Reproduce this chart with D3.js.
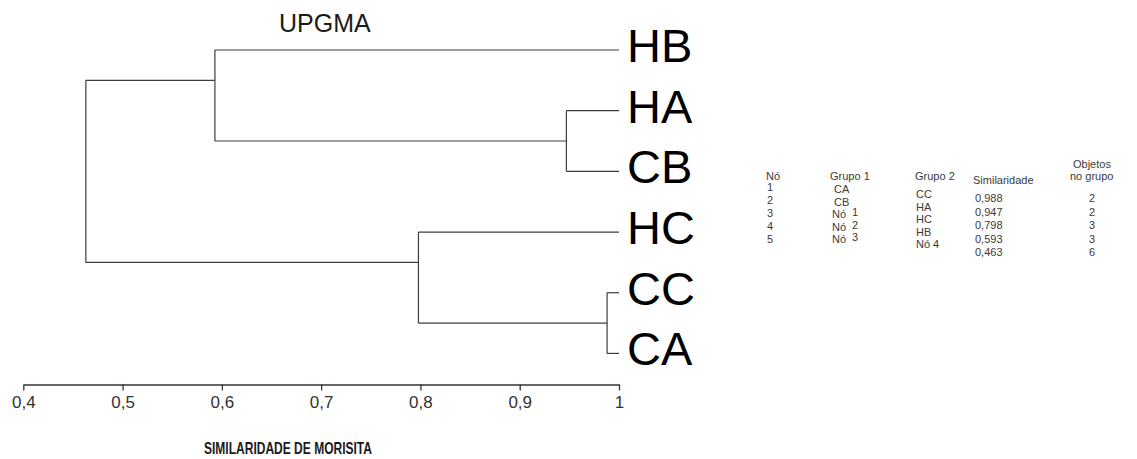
<!DOCTYPE html>
<html>
<head>
<meta charset="utf-8">
<script src="https://cdn.jsdelivr.net/npm/d3@7"></script>
<style>
  html, body { margin: 0; padding: 0; background: #fff; }
  svg { display: block; }
  text { font-family: "Liberation Sans", Arial, sans-serif; }
</style>
</head>
<body>
<svg id="chart" width="1137" height="459"></svg>
<script>
// ---- data ----
const nodeIds    = [1, 2, 3, 4, 5];
const group1     = ["CA", "CB", "Nó 1", "Nó 2", "Nó 3"];
const group2     = ["CC", "HA", "HC", "HB", "Nó 4"];
const similarity = [0.988, 0.947, 0.798, 0.593, 0.463];
const objects    = [2, 2, 3, 3, 6];
const tickValues = [0.4, 0.5, 0.6, 0.7, 0.8, 0.9, 1];
const leafSimilarity = 1;
const chartTitle = "UPGMA";
const axisTitle = "SIMILARIDADE DE MORISITA";
const tableHeaders = ["Nó", "Grupo 1", "Grupo 2", "Similaridade", "Objetos", "no grupo"];

// ---- build tree from merge table (children ordered group2 above group1) ----
const nodes = {};
function getNode(name) {
  if (nodes[name]) return nodes[name];
  nodes[name] = { name: name, sim: leafSimilarity, children: null };
  return nodes[name];
}
nodeIds.forEach((id, i) => {
  const n = getNode("Nó " + id);
  n.sim = similarity[i];
  n.children = [getNode(group2[i]), getNode(group1[i])];
});
const rootData = nodes["Nó " + nodeIds[nodeIds.length - 1]];
const root = d3.hierarchy(rootData, d => d.children);
const leafOrder = root.leaves().map(d => d.data.name);

// ---- scales ----
const svg = d3.select("#chart");
const x = d3.scaleLinear().domain([0.4, 1]).range([23.3, 619]);
const y = d3.scalePoint().domain(leafOrder).range([50, 353.4]);

// node vertical anchor: mean of first-leaf positions of its children
function firstLeaf(n) { return n.children ? firstLeaf(n.children[0]) : n; }
root.eachAfter(n => {
  if (!n.children) n.yy = y(n.data.name);
  else n.yy = d3.mean(n.children, c => y(firstLeaf(c).data.name));
});

const lineColor = "#3c3c3c";
const g = svg.append("g");
root.each(n => {
  if (!n.children) return;
  const xs = x(n.data.sim);
  const ys = n.children.map(c => c.yy);
  g.append("line")
    .attr("x1", xs).attr("x2", xs)
    .attr("y1", d3.min(ys)).attr("y2", d3.max(ys))
    .attr("stroke", lineColor).attr("stroke-width", 1.2);
  n.children.forEach(c => {
    g.append("line")
      .attr("x1", xs).attr("x2", x(c.data.sim))
      .attr("y1", c.yy).attr("y2", c.yy)
      .attr("stroke", lineColor).attr("stroke-width", 1.2);
  });
});

// leaf labels
svg.append("g").selectAll("text")
  .data(root.leaves())
  .join("text")
  .attr("x", x(leafSimilarity) + 8)
  .attr("y", d => y(d.data.name) + 12)
  .attr("font-size", 47)
  .attr("fill", "#000")
  .text(d => d.data.name);

// title
svg.append("text")
  .attr("x", 279).attr("y", 32)
  .attr("font-size", 25)
  .attr("fill", "#1a1a1a")
  .text(chartTitle);

// axis
const axis = d3.axisBottom(x)
  .tickValues(tickValues)
  .tickSize(6)
  .tickSizeOuter(0)
  .tickPadding(5)
  .tickFormat(d => d === 1 ? "1" : d3.format(".1f")(d).replace(".", ","));
const ax = svg.append("g").attr("transform", "translate(0,384.5)").call(axis);
ax.select(".domain").attr("stroke", "#333").attr("stroke-width", 1.3);
ax.selectAll(".tick line").attr("stroke", "#333").attr("stroke-width", 1.3);
ax.selectAll(".tick text")
  .attr("font-size", 17)
  .attr("font-family", "\"Liberation Sans\", Arial, sans-serif")
  .attr("fill", "#333");

svg.append("text")
  .attr("x", 288).attr("y", 454)
  .attr("text-anchor", "middle")
  .attr("font-size", 16.5)
  .attr("font-weight", "bold")
  .attr("textLength", 168)
  .attr("lengthAdjust", "spacingAndGlyphs")
  .attr("fill", "#1a1a1a")
  .text(axisTitle);

// ---- table ----
const tbl = svg.append("g").attr("font-size", 11).attr("fill", "#3a3a3a");
const rowIdx = d3.scaleLinear().domain([1, 5]).range([0, 4]);
tbl.append("text").attr("x", 766).attr("y", 180).text(tableHeaders[0]);
tbl.append("text").attr("x", 830).attr("y", 180).text(tableHeaders[1]);
tbl.append("text").attr("x", 915).attr("y", 180).text(tableHeaders[2]);
tbl.append("text").attr("x", 973).attr("y", 184).text(tableHeaders[3]);
tbl.append("text").attr("x", 1073).attr("y", 168).text(tableHeaders[4]);
tbl.append("text").attr("x", 1070).attr("y", 180).text(tableHeaders[5]);

nodeIds.forEach((id, i) => {
  const k = rowIdx(id);
  tbl.append("text").attr("x", 770).attr("y", 191 + 13 * k).attr("text-anchor", "middle").text(id);
  const g1 = group1[i];
  const y1 = 193 + 12.6 * k;
  if (g1.startsWith("Nó ")) {
    tbl.append("text").attr("x", 832).attr("y", y1).text("Nó");
    tbl.append("text").attr("x", 852).attr("y", y1 - 2).text(g1.slice(3));
  } else {
    tbl.append("text").attr("x", 834).attr("y", y1).text(g1);
  }
  tbl.append("text").attr("x", 916).attr("y", 198 + 12.6 * k).text(group2[i]);
  tbl.append("text").attr("x", 975).attr("y", 202 + 13.5 * k)
    .text(d3.format(".3f")(similarity[i]).replace(".", ","));
  tbl.append("text").attr("x", 1092).attr("y", 202 + 13.5 * k).attr("text-anchor", "middle").text(objects[i]);
});
</script>
</body>
</html>
